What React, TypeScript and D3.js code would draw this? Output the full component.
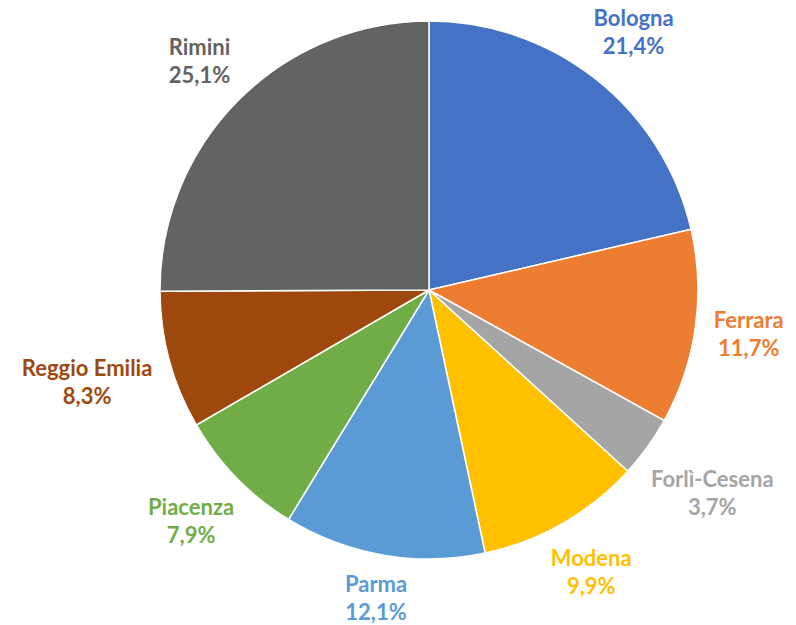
import React from "react";
import * as d3 from "d3";

const categories = ["Bologna", "Ferrara", "Forlì-Cesena", "Modena", "Parma", "Piacenza", "Reggio Emilia", "Rimini"];
const values = [21.4, 11.7, 3.7, 9.9, 12.1, 7.9, 8.3, 25.1];
const labels = ["21,4%", "11,7%", "3,7%", "9,9%", "12,1%", "7,9%", "8,3%", "25,1%"];
const colors = ["#4472C4", "#ED7D31", "#A5A5A5", "#FFC000", "#5B9BD5", "#70AD47", "#9E480E", "#636363"];

const W = 796, H = 625;
const cx = 429, cy = 290, r = 269;
const fontSize = 22;
const lineH = 28;
const fontFamily = "Lato, 'Open Sans', sans-serif";

function measure(t: string): number {
  try {
    const ctx = document.createElement("canvas").getContext("2d");
    if (ctx) {
      ctx.font = `700 ${fontSize}px Lato`;
      return ctx.measureText(t).width;
    }
  } catch (e) {}
  return t.length * fontSize * 0.53;
}

export default function App() {
  const pie = d3.pie<number>().sort(null).value((d) => d);
  const arcs = pie(values);
  const arc = d3.arc<d3.PieArcDatum<number>>().innerRadius(0).outerRadius(r);
  return (
    <svg width={W} height={H} style={{ position: "absolute", left: 0, top: 0, background: "#fff" }}>
      <g transform={`translate(${cx},${cy})`}>
        {arcs.map((a, i) => (
          <path key={i} d={arc(a) || ""} fill={colors[i]} stroke="#fff" strokeWidth={1.5} />
        ))}
        {arcs.map((a, i) => {
          const ang = (a.startAngle + a.endAngle) / 2;
          const s = Math.sin(ang), c = Math.cos(ang);
          const wHalf = Math.max(measure(categories[i]), measure(labels[i])) / 2;
          const hHalf = 24;
          const dist = r + 16 + wHalf * Math.abs(s) + hHalf * Math.abs(c);
          const x = dist * s;
          const y = -dist * c;
          return (
            <text key={i} x={x} y={y} textAnchor="middle" fill={colors[i]}
              style={{ fontFamily, fontWeight: 700, fontSize }}>
              <tspan x={x} dy={-lineH / 2 + 7}>{categories[i]}</tspan>
              <tspan x={x} dy={lineH}>{labels[i]}</tspan>
            </text>
          );
        })}
      </g>
    </svg>
  );
}
